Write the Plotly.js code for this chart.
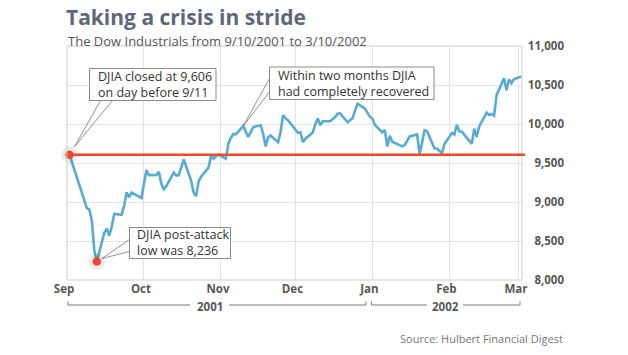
<!DOCTYPE html>
<html>
<head>
<meta charset="utf-8">
<script src="https://cdn.plot.ly/plotly-3.0.1.min.js"></script>
<style>html,body{margin:0;padding:0;background:#fff;}</style>
</head>
<body>
<div id="chart" style="width:628px;height:355px;"></div>
<script>
// ---------------- data ----------------
const tradeDates = [
 '2001-09-10','2001-09-17','2001-09-18','2001-09-19','2001-09-20','2001-09-21','2001-09-24','2001-09-25','2001-09-26','2001-09-27','2001-09-28',
 '2001-10-01','2001-10-02','2001-10-03','2001-10-04','2001-10-05','2001-10-08','2001-10-09','2001-10-10','2001-10-11','2001-10-12',
 '2001-10-15','2001-10-16','2001-10-17','2001-10-18','2001-10-19','2001-10-22','2001-10-23','2001-10-24','2001-10-25','2001-10-26',
 '2001-10-29','2001-10-30','2001-10-31',
 '2001-11-01','2001-11-02','2001-11-05','2001-11-06','2001-11-07','2001-11-08','2001-11-09','2001-11-12','2001-11-13','2001-11-14',
 '2001-11-15','2001-11-16','2001-11-19','2001-11-20','2001-11-21','2001-11-23','2001-11-26','2001-11-27','2001-11-28','2001-11-29','2001-11-30',
 '2001-12-03','2001-12-04','2001-12-05','2001-12-06','2001-12-07','2001-12-10','2001-12-11','2001-12-12','2001-12-13','2001-12-14',
 '2001-12-17','2001-12-18','2001-12-19','2001-12-20','2001-12-21','2001-12-24','2001-12-26','2001-12-27','2001-12-28','2001-12-31',
 '2002-01-02','2002-01-03','2002-01-04','2002-01-07','2002-01-08','2002-01-09','2002-01-10','2002-01-11','2002-01-14','2002-01-15',
 '2002-01-16','2002-01-17','2002-01-18','2002-01-22','2002-01-23','2002-01-24','2002-01-25','2002-01-28','2002-01-29','2002-01-30','2002-01-31',
 '2002-02-01','2002-02-04','2002-02-05','2002-02-06','2002-02-07','2002-02-08','2002-02-11','2002-02-12','2002-02-13','2002-02-14',
 '2002-02-15','2002-02-19','2002-02-20','2002-02-21','2002-02-22','2002-02-25','2002-02-26','2002-02-27','2002-02-28',
 '2002-03-01','2002-03-04','2002-03-05','2002-03-06','2002-03-07','2002-03-08','2002-03-11'
];
const djiaClose = [
 9606,8921,8903,8759,8376,8236,8604,8660,8567,8681,8848,
 8837,8951,9124,9061,9120,9068,9052,9241,9410,9344,
 9348,9386,9233,9163,9204,9377,9340,9346,9463,9545,
 9270,9122,9075,
 9264,9324,9441,9591,9554,9588,9608,9554,9751,9824,
 9872,9867,9976,9901,9835,9960,9983,9873,9712,9829,9852,
 9764,9894,10114,10072,10049,9921,9888,9895,9766,9811,
 9892,9998,10070,9985,10035,10035,10088,10131,10137,10022,
 10073,10172,10260,10197,10151,10094,10068,9988,9891,9924,
 9712,9850,9772,9714,9731,9796,9840,9866,9618,9763,9920,
 9907,9687,9685,9653,9625,9744,9885,9864,9990,9904,
 9903,9745,9941,9835,9968,10146,10115,10128,10106,
 10369,10587,10433,10574,10525,10572,10611
];
const preAttackClose = 9606;
const recoveryDate = '2001-11-19';
const monthTickDates = ['2001-09-10','2001-10-10','2001-11-10','2001-12-10','2002-01-10','2002-02-10','2002-03-10'];
const monthLabels = ['Sep','Oct','Nov','Dec','Jan','Feb','Mar'];
const yTicks = [8000,8500,9000,9500,10000,10500,11000];
const yTickLabels = ['8,000','8,500','9,000','9,500','10,000','10,500','11,000'];
const yearLabels = ['2001','2002'];
const titleText = 'Taking a crisis in stride';
const subtitleText = 'The Dow Industrials from 9/10/2001 to 3/10/2002';
const sourceText = 'Source: Hulbert Financial Digest';
const calloutCloseLines = ['DJIA closed at 9,606','on day before 9/11'];
const calloutRecoverLines = ['Within two months DJIA','had completely recovered'];
const calloutLowLines = ['DJIA post-attack','low was 8,236'];

// ---------------- geometry ----------------
const W = 628, H = 355;
const M = {l:67, r:64, t:46, b:75};
const PW = W - M.l - M.r;
const plotRightPx = 522;
const PLOT_W = plotRightPx - M.l;
const xDomEnd = PLOT_W / PW;
const PLOT_BOTTOM = H - M.b;
const PLOT_H = PLOT_BOTTOM - M.t;
const yRange = [8000, 11000];

const DAY = 864e5;
const pxPerDay = 2.483;
const firstPx = 69.5;
const ms = d => Date.parse(d.replace(' ','T') + (d.length === 10 ? 'T00:00:00Z' : 'Z'));
const tFirst = ms(tradeDates[0]);
const t0 = tFirst - (firstPx - M.l) / pxPerDay * DAY;
const t1 = t0 + PLOT_W / pxPerDay * DAY;
const fmt = t => new Date(t).toISOString().replace('T',' ').replace('Z','');

const xPx = d => M.l + (ms(d) - t0) / (t1 - t0) * PLOT_W;
const yPx = v => PLOT_BOTTOM - (v - yRange[0]) / (yRange[1] - yRange[0]) * PLOT_H;
const px2p = px => (px - M.l) / PW;
const py2p = py => (PLOT_BOTTOM - py) / PLOT_H;

// tick positions: Sep gridline sits on the plot's left edge
const tickVals = monthTickDates.map((d,i) => i === 0 ? fmt(t0) : d);

let iLow = 0;
djiaClose.forEach((v,i) => { if (v < djiaClose[iLow]) iLow = i; });
const iRec = tradeDates.indexOf(recoveryDate);

const FONT = 'Open Sans, sans-serif';
const BLUE = '#58abd1';
const RED = '#f2472e';
const GRID = '#e3e3e3';
const BORDER = '#cdcdcd';
const BOXLINE = '#8a8a8a';
const TXT = '#333333';
const AXTXT = '#585858';

// ---------------- traces ----------------
const traces = [
  {type:'scatter', mode:'lines', x:tradeDates, y:djiaClose,
   line:{color:BLUE, width:2.6}, hoverinfo:'skip'},
  {type:'scatter', mode:'markers', x:[tradeDates[0], tradeDates[iLow]], y:[djiaClose[0], djiaClose[iLow]],
   marker:{size:17, color:'rgba(0,0,0,0.075)'}, hoverinfo:'skip', cliponaxis:false},
  {type:'scatter', mode:'markers', x:[tradeDates[0], tradeDates[iLow]], y:[djiaClose[0], djiaClose[iLow]],
   marker:{size:8.5, color:RED}, hoverinfo:'skip', cliponaxis:false}
];

// ---------------- shapes ----------------
const P = (px,py) => px2p(px).toFixed(5) + ',' + py2p(py).toFixed(5);
const shapes = [];
// plot border
shapes.push({type:'rect', xref:'paper', yref:'paper', x0:0, x1:xDomEnd, y0:0, y1:1,
  line:{color:BORDER, width:1}, fillcolor:'rgba(0,0,0,0)', layer:'above'});
// reference line at pre-attack close
shapes.push({type:'line', xref:'paper', yref:'paper',
  x0:px2p(xPx(tradeDates[0])), x1:px2p(525), y0:py2p(yPx(preAttackClose)), y1:py2p(yPx(preAttackClose)),
  line:{color:RED, width:2.6}, layer:'above'});

function box(x0,y0,x1,y1){
  shapes.push({type:'rect', xref:'paper', yref:'paper', x0:px2p(x0), x1:px2p(x1), y0:py2p(y1), y1:py2p(y0),
    line:{color:BOXLINE, width:1}, fillcolor:'#ffffff', layer:'above'});
}
function wedge(a, tip, b){
  shapes.push({type:'path', xref:'paper', yref:'paper',
    path:'M' + P(a[0],a[1]) + ' L' + P(tip[0],tip[1]) + ' L' + P(b[0],b[1]),
    line:{color:'#777777', width:0.8}, fillcolor:'rgba(0,0,0,0)', layer:'above'});
}
// callout 1: pre-attack close
const d0x = xPx(tradeDates[0]), d0y = yPx(djiaClose[0]);
wedge([100.5,100.5],[d0x+5, d0y-8],[112.5,100.5]);
box(89.5,68.5,216,100.5);
// callout 2: recovery
const rx = xPx(tradeDates[iRec]), ry = yPx(djiaClose[iRec]);
wedge([269.5,78.5],[rx, ry],[269.5,92]);
box(269.5,67,434,99.5);
// callout 3: low
const lx = xPx(tradeDates[iLow]), ly = yPx(djiaClose[iLow]);
wedge([129.5,239.5],[lx+5, ly-3],[129.5,251.5]);
box(129.5,227.5,230.5,258.5);

// year brackets
function bracket(xa, xb, gapA, gapB){
  const yb = 305, yt = 301.5;
  shapes.push({type:'path', xref:'paper', yref:'paper',
    path:'M' + P(xa,yt) + ' L' + P(xa,yb) + ' L' + P(gapA,yb), line:{color:'#7a7a7a', width:1}, layer:'above'});
  shapes.push({type:'path', xref:'paper', yref:'paper',
    path:'M' + P(gapB,yb) + ' L' + P(xb,yb) + ' L' + P(xb,yt), line:{color:'#7a7a7a', width:1}, layer:'above'});
}
bracket(68, 366, 190, 229);
bracket(371.5, 520, 427, 463);

// ---------------- annotations ----------------
const ann = [];
function txt(text, px, py, opts){
  ann.push(Object.assign({text:text, xref:'paper', yref:'paper', x:px2p(px), y:py2p(py),
    xanchor:'left', yanchor:'middle', align:'left', showarrow:false,
    font:{family:FONT, size:12.5, color:TXT}}, opts || {}));
}
txt(subtitleText, 66, 40.5, {font:{family:FONT, size:13, color:'#555555'}});
txt(sourceText, 565, 338, {xanchor:'right', font:{family:FONT, size:11, color:'#777777'}});
txt(calloutCloseLines.join('<br>'), 95.5, 84);
txt(calloutRecoverLines.join('<br>'), 275.5, 83);
txt(calloutLowLines.join('<br>'), 134.5, 242);
txt(yearLabels[0], 210, 306, {xanchor:'center', font:{family:FONT, size:11.5, color:AXTXT, weight:700}});
txt(yearLabels[1], 445, 306, {xanchor:'center', font:{family:FONT, size:11.5, color:AXTXT, weight:700}});

// ---------------- layout ----------------
const layout = {
  width:W, height:H,
  margin:{l:M.l, r:M.r, t:M.t, b:M.b, pad:0},
  paper_bgcolor:'#ffffff', plot_bgcolor:'#ffffff',
  showlegend:false,
  font:{family:FONT},
  title:{text:titleText, xref:'container', yref:'container', x:66/W, xanchor:'left',
         y:1 - 17.5/H, yanchor:'middle',
         font:{family:FONT, size:21, weight:700, color:'#5d6778'}},
  xaxis:{type:'date', range:[fmt(t0), fmt(t1)], domain:[0, xDomEnd],
         tickmode:'array', tickvals:tickVals, ticktext:monthLabels, ticklabelshift:-3,
         showgrid:true, gridcolor:GRID, gridwidth:1, zeroline:false, showline:false, ticks:'',
         tickfont:{family:FONT, size:11.5, color:AXTXT, weight:700}, fixedrange:true},
  yaxis:{range:yRange, anchor:'free', position:1, side:'left',
         tickmode:'array', tickvals:yTicks, ticktext:yTickLabels,
         showgrid:true, gridcolor:GRID, gridwidth:1, zeroline:false, showline:false, ticks:'',
         tickfont:{family:FONT, size:11.5, color:AXTXT, weight:700}, fixedrange:true},
  shapes:shapes,
  annotations:ann
};

Plotly.newPlot('chart', traces, layout, {displayModeBar:false, staticPlot:true});
</script>
</body>
</html>
